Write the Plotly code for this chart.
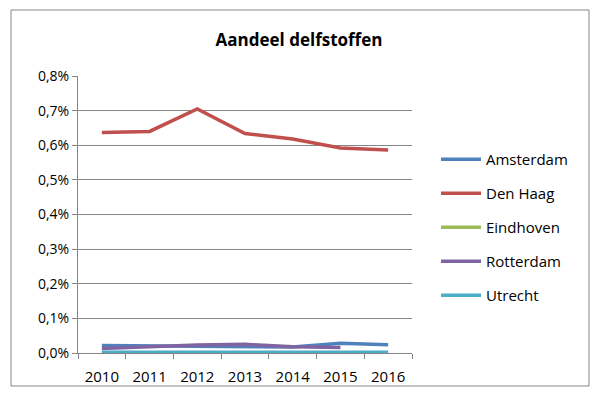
import plotly.graph_objects as go

years = ["2010", "2011", "2012", "2013", "2014", "2015", "2016"]
amsterdam = [0.00022, 0.00021, 0.00021, 0.00018, 0.00017, 0.00028, 0.00024]
den_haag = [0.00637, 0.00640, 0.00705, 0.00634, 0.00618, 0.00592, 0.00586]
eindhoven = [0.00001, 0.00001, 0.00001, 0.00001, 0.00001, 0.00001, 0.00001]
rotterdam = [0.00013, 0.00018, 0.00023, 0.00025, 0.00018, 0.00016, None]
utrecht = [0.00002, 0.00002, 0.00002, 0.00002, 0.00002, 0.00002, 0.00002]

series = [
    ("Amsterdam", amsterdam, "#4F81BD"),
    ("Den Haag", den_haag, "#C0504D"),
    ("Eindhoven", eindhoven, "#9BBB59"),
    ("Rotterdam", rotterdam, "#8064A2"),
    ("Utrecht", utrecht, "#4BACC6"),
]

fig = go.Figure()
for name, vals, color in series:
    fig.add_trace(go.Scatter(
        x=years, y=vals, name=name, mode="lines",
        line=dict(color=color, width=3.5),
        legendgroup=name,
    ))

W, H = 598, 396
ml, mr, mt, mb = 78, 186, 76, 43
pw, ph = W - ml - mr, H - mt - mb

def px_x(x):
    return (x - ml) / pw

def px_y(y):
    return (H - mb - y) / ph

fig.update_layout(
    width=W, height=H,
    margin=dict(l=ml, r=mr, t=mt, b=mb),
    paper_bgcolor="white", plot_bgcolor="white",
    separators=",.",
    font=dict(family="Open Sans, Liberation Sans, sans-serif", size=14, color="#000000"),
    title=dict(text="<b>Aandeel delfstoffen</b>", x=0.5, xanchor="center",
               y=1 - 40 / H, yanchor="middle", font=dict(size=17)),
    showlegend=True,
    legend=dict(x=px_x(436), y=px_y(143), xanchor="left", yanchor="top",
                tracegroupgap=11.5, font=dict(size=15), itemwidth=40,
                bgcolor="rgba(0,0,0,0)"),
    xaxis=dict(type="category", range=[-0.5, 6.5], tickson="boundaries",
               ticks="outside", ticklen=5, ticklabelstandoff=10, automargin=False,
               tickcolor="#868686", showline=True, linecolor="#868686", linewidth=1,
               showgrid=False, tickfont=dict(size=15)),
    yaxis=dict(range=[0, 0.008], dtick=0.001, tickformat=".1%", ticks="outside",
               ticklen=5, tickcolor="#868686", showline=True, linecolor="#868686",
               showgrid=True, gridcolor="#868686", gridwidth=1, zeroline=False,
               automargin=False, tickfont=dict(size=14)),
    shapes=[dict(type="rect", xref="paper", yref="paper",
                 x0=px_x(11), x1=px_x(589), y0=px_y(386), y1=px_y(10),
                 line=dict(color="#868686", width=1))],
)

fig.write_html("out.html")
